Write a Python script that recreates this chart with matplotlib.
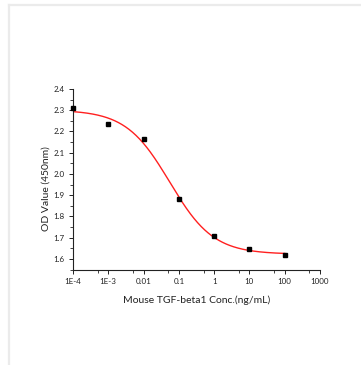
import matplotlib
matplotlib.use("Agg")
import matplotlib.pyplot as plt
import numpy as np
from matplotlib.ticker import FixedLocator, FixedFormatter, MultipleLocator

# data
conc = [1e-4, 1e-3, 0.01, 0.1, 1, 10, 100]
od = [2.310, 2.233, 2.163, 1.882, 1.708, 1.645, 1.618]
xtick_vals = [1e-4, 1e-3, 0.01, 0.1, 1, 10, 100, 1000]
xtick_labels = ["1E-4", "1E-3", "0.01", "0.1", "1", "10", "100", "1000"]

plt.rcParams["font.family"] = ["Lato", "DejaVu Sans"]


# 4PL fit: grid search over ec50/hill, linear least squares for top/bottom
def fit_4pl(x, y):
    x = np.asarray(x, float)
    y = np.asarray(y, float)
    best = None
    for lec in np.linspace(-4, 1, 251):
        for h in np.linspace(0.3, 2.0, 171):
            s = 1.0 / (1.0 + (x / 10**lec) ** h)
            A = np.column_stack([s, 1 - s])
            coef, *_ = np.linalg.lstsq(A, y, rcond=None)
            err = np.sum((A @ coef - y) ** 2)
            if best is None or err < best[0]:
                best = (err, coef[0], coef[1], 10**lec, h)
    return best[1:]


top, bottom, ec50, hill = fit_4pl(conc, od)
xs = np.logspace(-4, 2, 300)
ys = bottom + (top - bottom) / (1 + (xs / ec50) ** hill)

fig = plt.figure(figsize=(3.61, 3.65), dpi=100)
# light gray frame lines of the original screenshot
fig.add_artist(plt.Line2D([9 / 361, 1], [1 - 5 / 365, 1 - 5 / 365], color="#ebebeb", lw=1.6))
fig.add_artist(plt.Line2D([9 / 361, 9 / 361], [0, 1 - 5 / 365], color="#ebebeb", lw=1.6))

ax = fig.add_axes([73 / 361, 1 - 270 / 365, (320 - 73) / 361, (270 - 89) / 365])
ax.plot(xs, ys, color="#ff2020", lw=1.0, zorder=2)
ax.plot(conc, od, "s", color="black", ms=3.3, zorder=3, clip_on=False)

ax.set_xscale("log")
ax.set_xlim(1e-4, 1000)
ax.set_ylim(1.548, 2.4)
ax.xaxis.set_major_locator(FixedLocator(xtick_vals))
ax.xaxis.set_major_formatter(FixedFormatter(xtick_labels))
ax.xaxis.set_minor_locator(FixedLocator([5 * v for v in xtick_vals[:-1]]))
ax.yaxis.set_major_locator(MultipleLocator(0.1))
ax.yaxis.set_minor_locator(MultipleLocator(0.05))
ax.yaxis.set_major_formatter(matplotlib.ticker.FormatStrFormatter("%.1f"))

for s in ["top", "right"]:
    ax.spines[s].set_visible(False)
for s in ["left", "bottom"]:
    ax.spines[s].set_linewidth(0.8)
    ax.spines[s].set_color("#222222")

ax.tick_params(which="major", length=3, width=0.7, labelsize=5.8, colors="#222222", pad=3)
ax.tick_params(which="minor", length=2, width=0.6, colors="#222222")

ax.set_xlabel("Mouse TGF-beta1 Conc.(ng/mL)", fontsize=7.5, color="#222222", labelpad=7)
ax.set_ylabel("OD Value (450nm)", fontsize=7.5, color="#222222")
ax.yaxis.set_label_coords(-0.092, 0.45)

fig.savefig("out.png", dpi=100)
